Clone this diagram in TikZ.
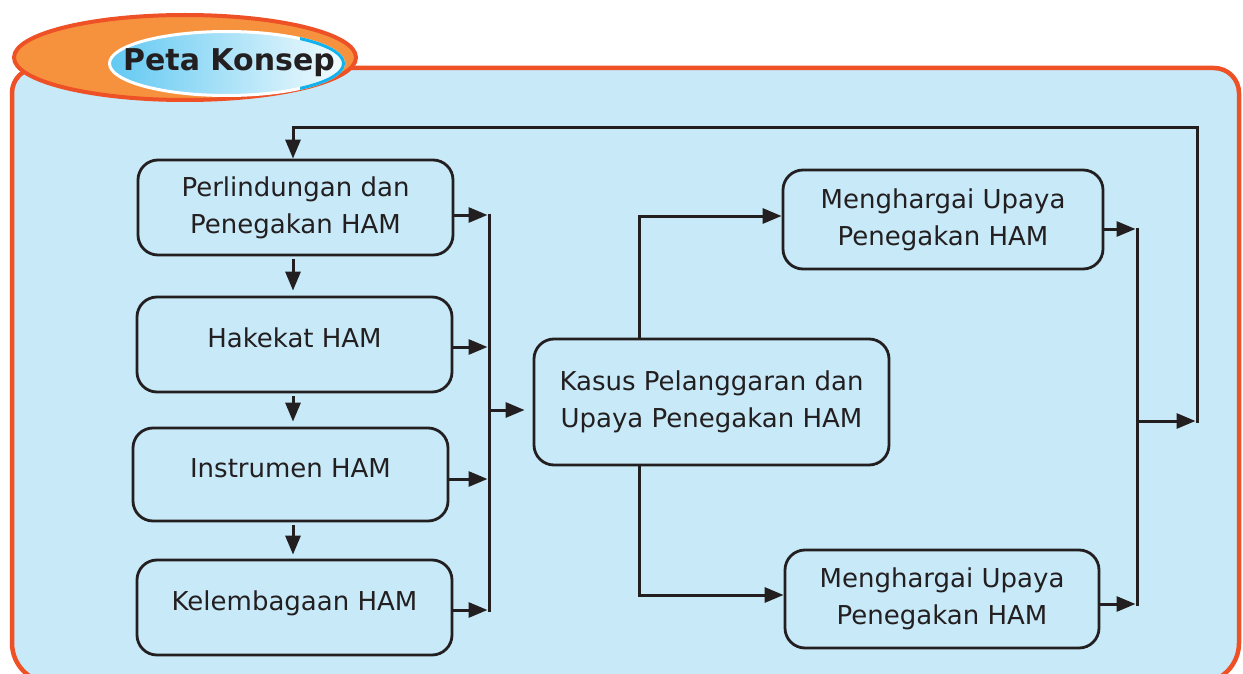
\documentclass[tikz,border=0pt]{standalone}
\usepackage{fontspec}
\setmainfont{DejaVu Sans}
\usetikzlibrary{arrows.meta}
\definecolor{ink}{HTML}{231F20}
\definecolor{panel}{HTML}{C7E9F8}
\definecolor{rim}{HTML}{EE5126}
\definecolor{orng}{HTML}{F6923D}
\definecolor{tblue}{HTML}{62C9F2}
\definecolor{tmid}{HTML}{8FD9F7}
\definecolor{tcyan}{HTML}{12B2EC}
\begin{document}
\begin{tikzpicture}[x=1pt,y=-1pt,
  box/.style={draw=ink, line width=2.8pt, rounded corners=20pt, align=center, text=ink,
              font=\fontsize{26}{37}\selectfont, inner sep=0pt},
  one/.style={text height=15pt, text depth=10pt},
  arr/.style={draw=ink, line width=3pt, line join=miter, -{Triangle[length=19pt,width=15pt]}},
  ln/.style={draw=ink, line width=3pt},
]
\useasboundingbox (0,0) rectangle (1243,674);
% panel
\draw[rim, line width=4.5pt, fill=panel]
  (12,300) [rounded corners=25pt] -- (12,68) -- (1239,68) -- (1239,300)
  [rounded corners=40pt] -- (1239,683) -- (12,683) -- cycle;
% title badge
\draw[rim, line width=4pt, fill=orng] (185,57.5) ellipse [x radius=171pt, y radius=42.5pt];
\shade[left color=tblue, middle color=tmid, right color=white!92!tblue]
  (226.5,63.5) ellipse [x radius=117pt, y radius=32pt];
\draw[white, line width=3pt] (226.5,63.5) ellipse [x radius=117pt, y radius=32pt];
\begin{scope}
  \clip (300,0) rectangle (400,120);
  \draw[tcyan, line width=3pt] (226.5,63.5) ellipse [x radius=117pt, y radius=32pt];
\end{scope}
\node[anchor=base, text=ink, font=\fontsize{30}{36}\selectfont\bfseries] (title) at (229,70.5) {Peta Konsep};

% left column
\node[box, minimum width=315pt, minimum height=95pt] (b1) at (295.5,207.5) {Perlindungan dan\\Penegakan HAM};
\node[box, one, minimum width=315pt, minimum height=95pt] (b2) at (294.5,344.5) {Hakekat HAM};
\node[box, one, minimum width=315pt, minimum height=93pt] (b3) at (290.5,474.5) {Instrumen HAM};
\node[box, one, minimum width=315pt, minimum height=95pt] (b4) at (294.5,607.5) {Kelembagaan HAM};
% centre
\node[box, minimum width=355pt, minimum height=126pt] (K) at (711.5,402) {Kasus Pelanggaran dan\\Upaya Penegakan HAM};
% right column
\node[box, minimum width=320pt, minimum height=99pt] (M1) at (943,219.5) {Menghargai Upaya\\Penegakan HAM};
\node[box, minimum width=314pt, minimum height=98pt] (M2) at (942,599) {Menghargai Upaya\\Penegakan HAM};

% coordinates
\coordinate (vx) at (293,0);
\coordinate (lbT) at (489,215);
\coordinate (lbB) at (489,610);
\coordinate (kin) at (491,410);
\coordinate (kx) at (639,0);
\coordinate (rbT) at (1137,229);
\coordinate (rbB) at (1137,604);
\coordinate (rb) at (1137,421);
\coordinate (fbR) at (1197,421);
\coordinate (fbT) at (1197,128);

% vertical arrows left
\draw[arr, shorten <=3pt, shorten >=5pt] (b1.south -| vx) -- (b2.north -| vx);
\draw[arr, shorten <=3pt, shorten >=5pt] (b2.south -| vx) -- (b3.north -| vx);
\draw[arr, shorten <=3pt, shorten >=4pt] (b3.south -| vx) -- (b4.north -| vx);

% left bus
\draw[ln] ([yshift=1.5pt]lbT) -- ([yshift=-1.5pt]lbB);
\draw[arr, shorten >=1.5pt] (b1.east |- lbT) -- (lbT);
\draw[arr, shorten >=1.5pt] (b2.east |- 489,347) -- (489,347);
\draw[arr, shorten >=1.5pt] (b3.east |- 489,479) -- (489,479);
\draw[arr, shorten >=1.5pt] (b4.east |- lbB) -- (lbB);
\draw[arr, shorten >=8pt] (kin) -- (K.west |- kin);

% kasus to right boxes
\draw[arr] (K.north -| kx) -- (kx |- 0,216) -- (M1.west |- 0,216);
\draw[arr] (K.south -| kx) -- (kx |- 0,595) -- (M2.west |- 0,595);

% right bus
\draw[ln] ([yshift=1.5pt]rbT) -- ([yshift=-1.5pt]rbB);
\draw[arr, shorten >=1.5pt] (M1.east |- rbT) -- (rbT);
\draw[arr, shorten >=1.5pt] (M2.east |- rbB) -- (rbB);
\draw[arr, shorten >=1.5pt] (rb) -- (fbR);

% feedback loop
\draw[arr] ([yshift=-1.5pt]fbR) -- (fbT) -- (vx |- fbT) -- (b1.north -| vx);
\end{tikzpicture}
\end{document}
